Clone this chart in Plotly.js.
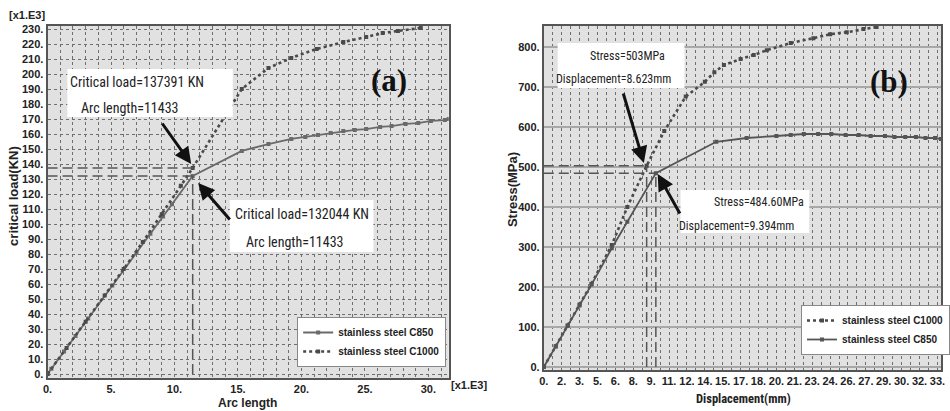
<!DOCTYPE html>
<html>
<head>
<meta charset="utf-8">
<script src="https://cdn.plot.ly/plotly-3.0.1.min.js"></script>
<style>html,body{margin:0;padding:0;background:#fff;overflow:hidden;}#chart{width:950px;height:411px;}</style>
</head>
<body>
<div id="chart"></div>
<script>
// ---------- (a) critical load vs arc length (x1.E3) ----------
const arcC850  = [0, 0.3, 1.3, 2.2, 3.2, 5.1, 7.0, 8.1, 9.1, 9.8, 11.433, 15.3, 17.4, 19.2, 20.3, 21.3, 22.3, 23.3, 24.2, 25.1, 26.2, 27.1, 28.2, 29.2, 30.2, 31.3, 31.6];
const loadC850 = [0, 3.5, 15, 25.4, 37, 59, 80.8, 93.5, 105, 113.2, 132.044, 148.7, 153.3, 156.7, 158, 159.3, 160.7, 162, 162.7, 163.3, 164.7, 165.3, 166.7, 167.3, 168.7, 169.3, 170];
const arcC1000  = [0, 1.5, 3, 4.5, 6, 7.5, 9, 10.5, 11.433, 15.3, 17.4, 19.2, 21.2, 23.3, 25.1, 26.4, 27.6, 29.4];
const loadC1000 = [0, 17.4, 34.8, 52.3, 70, 88, 106.5, 125.5, 137.391, 190, 204, 210.7, 216.7, 221.3, 224.7, 227.3, 228.7, 230.7];
const critArc = 11.433, critLoadC850 = 132.044, critLoadC1000 = 137.391;
const xTicksA = [0, 5, 10, 15, 20, 25, 30];
const xLabelsA = ['0.', '5.', '10.', '15.', '20.', '25.', '30.'];
const yTicksA = [0,10,20,30,40,50,60,70,80,90,100,110,120,130,140,150,160,170,180,190,200,210,220,230];
const yLabelsA = ['0.','10.','20.','30.','40.','50.','60.','70.','80.','90.','100.','110.','120.','130.','140.','150.','160.','170.','180.','190.','200.','210.','220.','230.'];

// ---------- (b) stress vs displacement ----------
const dispC1000   = [0, 1, 2, 3, 4, 5.7, 7, 8.623, 10.1, 11.9, 13.5, 14.3, 15.1, 16.5, 17.6, 18.7, 20.7, 22.6, 24, 25.4, 26.8, 27.9];
const stressC1000 = [0, 52, 104, 156, 208, 305, 400, 503, 590, 676, 713, 737, 755, 770, 780, 792, 810, 822, 832, 837, 845, 850];
const dispC850    = [0, 1, 2, 3, 4, 5.7, 7, 9.394, 14.46, 17, 19.5, 20.7, 21.8, 23, 24.1, 25.3, 26.4, 27.4, 28.6, 29.4, 30.3, 31.2, 32, 32.8, 33.3];
const stressC850  = [0, 51.5, 103, 154, 206, 297, 363, 484.6, 563, 572.5, 577.5, 580, 582.5, 582.5, 582.5, 580, 580, 577.5, 577.5, 575, 575, 575, 572.5, 572.5, 570];
const critDispC1000 = 8.623, critStressC1000 = 503, critDispC850 = 9.394, critStressC850 = 484.6;
const xTicksB = [0,1.5,3,4.5,6,7.5,9,10.5,12,13.5,15,16.5,18,19.5,21,22.5,24,25.5,27,28.5,30,31.5,33];
const xLabelsB = ['0.','2.','3.','5.','6.','8.','9.','11.','12.','14.','15.','17.','18.','20.','21.','23.','24.','26.','27.','29.','30.','32.','33.'];
const yTicksB = [0,100,200,300,400,500,600,700,800];
const yLabelsB = ['0.','100.','200.','300.','400.','500.','600.','700.','800.'];

const W = 950, H = 411;
const px = x => x / W, py = y => 1 - y / H;
const NARROW = 'Liberation Sans Narrow, Arial Narrow, Roboto Condensed, Liberation Sans, sans-serif';
const BOLD = {family: 'Liberation Sans, Arial, sans-serif', size: 11, color: '#222', weight: 'bold'};
const LEG = {family: 'Liberation Sans, Arial, sans-serif', size: 10, color: '#222', weight: 'bold'};
const solidCol = '#6a6a6a', dotCol = '#4a4a4a', dashCol = '#555555';

const traces = [
  {x: arcC850, y: loadC850, xaxis: 'x', yaxis: 'y', name: 'stainless steel C850', legend: 'legend',
   mode: 'lines+markers', line: {color: solidCol, width: 1.8}, marker: {symbol: 'square', size: 4, color: solidCol}},
  {x: arcC1000, y: loadC1000, xaxis: 'x', yaxis: 'y', name: 'stainless steel C1000', legend: 'legend',
   mode: 'lines+markers', line: {color: dotCol, width: 2.6, dash: 'dot'}, marker: {symbol: 'square', size: 4, color: dotCol}},
  {x: [0, critArc, null, 0, critArc, null, critArc, critArc], y: [critLoadC1000, critLoadC1000, null, critLoadC850, critLoadC850, null, 0, critLoadC850],
   xaxis: 'x', yaxis: 'y', mode: 'lines', showlegend: false, line: {color: dashCol, width: 1.5, dash: '10px,5px'}},
  {x: dispC1000, y: stressC1000, xaxis: 'x2', yaxis: 'y2', name: 'stainless steel C1000', legend: 'legend2',
   mode: 'lines+markers', line: {color: dotCol, width: 2.6, dash: 'dot'}, marker: {symbol: 'square', size: 4, color: dotCol}},
  {x: dispC850, y: stressC850, xaxis: 'x2', yaxis: 'y2', name: 'stainless steel C850', legend: 'legend2',
   mode: 'lines+markers', line: {color: '#555', width: 1.8}, marker: {symbol: 'square', size: 4, color: '#555'}},
  {x: [0, critDispC1000, null, 0, critDispC850, null, critDispC1000, critDispC1000, null, critDispC850, critDispC850],
   y: [critStressC1000, critStressC1000, null, critStressC850, critStressC850, null, 0, critStressC1000, null, 0, critStressC850],
   xaxis: 'x2', yaxis: 'y2', mode: 'lines', showlegend: false, line: {color: dashCol, width: 1.5, dash: '10px,5px'}}
];

const gridDot = {gridcolor: '#6f6f6f', griddash: 'dot', gridwidth: 1};
const axisCommon = {showline: true, linecolor: '#555', linewidth: 2, mirror: true, zeroline: false, ticks: '',
  tickfont: BOLD, showgrid: true, fixedrange: true, tickangle: 0};

function label(x, y, text, font, extra) {
  return Object.assign({xref: 'paper', yref: 'paper', x: px(x), y: py(y), text: text, showarrow: false,
    font: font, xanchor: 'center', yanchor: 'middle'}, extra || {});
}
function arrow(tipX, tipY, tailX, tailY) {
  return {xref: 'paper', yref: 'paper', x: px(tipX), y: py(tipY), ax: tailX - tipX, ay: tailY - tipY,
    text: '', showarrow: true, arrowhead: 2, arrowsize: 1.1, arrowwidth: 3, arrowcolor: '#111', standoff: 0};
}
const boxFontA = {family: NARROW, size: 14, color: '#222'};
const boxFontB = {family: NARROW, size: 12, color: '#222'};
const titleFont = {family: 'Liberation Sans, Arial, sans-serif', size: 13, color: '#222', weight: 'bold'};

const annotations = [
  label(27, 15, '[x1.E3]', BOLD),
  label(473, 385, '[x1.E3]', BOLD),
  label(13, 196, 'critical load(KN)', titleFont, {textangle: -90}),
  label(250, 403, 'Arc length', {family: 'Liberation Sans, Arial, sans-serif', size: 12, color: '#222', weight: 'bold'}),
  label(517, 190, 'Stress(MPa)', titleFont, {textangle: -90}),
  label(751, 398, 'Displacement(mm)', {family: NARROW, size: 12.5, color: '#222', weight: 'bold'}),
  label(393, 80, '(a)', {family: 'Liberation Serif, Times New Roman, serif', size: 31, color: '#111', weight: 'bold'}),
  label(898, 82, '(b)', {family: 'Liberation Serif, Times New Roman, serif', size: 31, color: '#111', weight: 'bold'}),
  label(138, 82, 'Critical load=137391 KN', boxFontA),
  label(131, 108, 'Arc length=11433', boxFontA),
  label(304.5, 214, 'Critical load=132044 KN', boxFontA),
  label(297.5, 242, 'Arc length=11433', boxFontA),
  label(634, 56, 'Stress=503MPa', boxFontB),
  label(619, 79, 'Displacement=8.623mm', boxFontB),
  label(766, 202, 'Stress=484.60MPa', boxFontB),
  label(744, 226, 'Displacement=9.394mm', boxFontB),
  arrow(193, 164, 163, 122),
  arrow(200, 183, 233, 221),
  arrow(650, 163, 629, 92),
  arrow(664, 174, 687, 215)
];

function rect(x0, y0, x1, y1) {
  return {type: 'rect', xref: 'paper', yref: 'paper', x0: px(x0), x1: px(x1), y0: py(y1), y1: py(y0),
    fillcolor: '#ffffff', line: {width: 0}, layer: 'above'};
}
const shapes = [rect(68, 69, 235, 117), rect(232, 200, 377, 252), rect(563, 43, 691, 88), rect(687, 190, 817, 233)];

const layout = {
  width: W, height: H, margin: {l: 0, r: 0, t: 0, b: 0},
  paper_bgcolor: '#ffffff', plot_bgcolor: '#e1e1e1', showlegend: true,
  xaxis: Object.assign({}, axisCommon, gridDot, {domain: [px(48), px(453)], range: [0, 31.6], anchor: 'y',
    tickmode: 'array', tickvals: xTicksA, ticktext: xLabelsA,
    minor: {tick0: 0, dtick: 1, showgrid: true, gridcolor: '#6f6f6f', griddash: 'dot', gridwidth: 1}}),
  yaxis: Object.assign({}, axisCommon, gridDot, {domain: [py(378), py(26)], range: [-2.67, 232], anchor: 'x',
    tickmode: 'array', tickvals: yTicksA, ticktext: yLabelsA}),
  xaxis2: Object.assign({}, axisCommon, gridDot, {domain: [px(549), 1], range: [0, 33.3], anchor: 'y2',
    tickmode: 'array', tickvals: xTicksB, ticktext: xLabelsB,
    minor: {tick0: 0, dtick: 0.75, showgrid: true, gridcolor: '#6f6f6f', griddash: 'dot', gridwidth: 1}}),
  yaxis2: Object.assign({}, axisCommon, {domain: [py(370), py(26)], range: [-7.5, 852.5], anchor: 'x2',
    tickmode: 'array', tickvals: yTicksB, ticktext: yLabelsB, gridcolor: '#a8a8a8', gridwidth: 1.5}),
  legend: {x: px(300), y: py(317), xanchor: 'left', yanchor: 'top', bgcolor: '#ffffff', bordercolor: '#888',
    borderwidth: 1, font: LEG, itemwidth: 30, tracegroupgap: 0},
  legend2: {x: px(809), y: py(305), xanchor: 'left', yanchor: 'top', bgcolor: '#ffffff', bordercolor: '#888',
    borderwidth: 1, font: LEG, itemwidth: 30, tracegroupgap: 0},
  annotations: annotations, shapes: shapes
};

Plotly.newPlot('chart', traces, layout, {displayModeBar: false, staticPlot: true});
</script>
</body>
</html>
